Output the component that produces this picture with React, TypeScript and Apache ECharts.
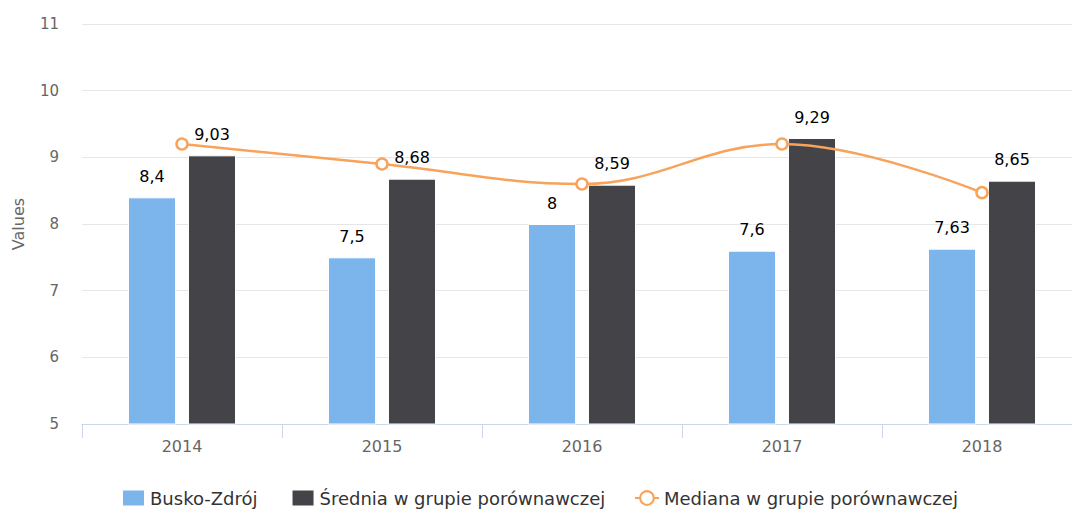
import React, { useEffect, useRef } from "react";
import * as echarts from "echarts";

const categories = ["2014", "2015", "2016", "2017", "2018"];
const buskoValues = [8.4, 7.5, 8, 7.6, 7.63];
const sredniaValues = [9.03, 8.68, 8.59, 9.29, 8.65];
const medianaValues = [9.2, 8.9, 8.6, 9.2, 8.47];
const seriesNames = ["Busko-Zdrój", "Średnia w grupie porównawczej", "Mediana w grupie porównawczej"];

const FONT = "'DejaVu Sans', Verdana, sans-serif";

export default function App() {
  const ref = useRef<HTMLDivElement>(null);
  useEffect(() => {
    if (!ref.current) return;
    const chart = echarts.init(ref.current, undefined, { renderer: "svg" });
    const fmt = (p: any) => String(p.value).replace(".", ",");
    const labelStyle = {
      show: true,
      position: "top" as const,
      distance: 13,
      fontSize: 16,
      color: "#000",
      fontFamily: FONT,
      formatter: fmt,
    };
    const legendText = { fontSize: 18, color: "#333", fontFamily: FONT, lineHeight: 20 };
    chart.setOption({
      animation: false,
      textStyle: { fontFamily: FONT },
      grid: { left: 82, width: 1000, top: 24, height: 400, outerBoundsMode: "none", containLabel: false },
      legend: [
        {
          data: [seriesNames[0], seriesNames[1]],
          left: 121,
          top: 488,
          padding: 0,
          itemWidth: 23,
          itemHeight: 17,
          itemGap: 33,
          icon: "rect",
          textStyle: legendText,
        },
        {
          data: [seriesNames[2]],
          left: 634,
          top: 488,
          padding: 0,
          itemWidth: 24,
          itemHeight: 17,
          textStyle: legendText,
        },
      ],
      xAxis: {
        type: "category",
        data: categories,
        axisLine: { lineStyle: { color: "#ccd6eb" } },
        axisTick: { show: true, length: 14, lineStyle: { color: "#ccd6eb" } },
        axisLabel: { fontSize: 16, color: "#666", margin: 14, fontFamily: FONT },
      },
      yAxis: {
        type: "value",
        min: 5,
        max: 11,
        interval: 1,
        name: "Values",
        nameLocation: "middle",
        nameGap: 56,
        nameTextStyle: { fontSize: 16, color: "#666", fontFamily: FONT },
        axisLine: { show: false },
        axisTick: { show: false },
        axisLabel: { fontSize: 15, color: "#666", margin: 23, fontFamily: FONT },
        splitLine: { lineStyle: { color: "#e6e6e6" } },
      },
      series: [
        {
          name: seriesNames[0],
          type: "bar",
          data: buskoValues,
          barWidth: 48,
          barGap: "25%",
          itemStyle: { color: "#7cb5ec", borderColor: "#fff", borderWidth: 1 },
          label: labelStyle,
        },
        {
          name: seriesNames[1],
          type: "bar",
          data: sredniaValues,
          barWidth: 48,
          itemStyle: { color: "#434348", borderColor: "#fff", borderWidth: 1 },
          label: labelStyle,
        },
        {
          name: seriesNames[2],
          type: "line",
          data: medianaValues,
          smooth: 0.4,
          symbol: "circle",
          symbolSize: 11,
          lineStyle: { color: "#f7a35c", width: 2.5 },
          itemStyle: { color: "#fff", borderColor: "#f7a35c", borderWidth: 2.5 },
          z: 5,
        },
      ],
    });
    return () => chart.dispose();
  }, []);
  return (
    <div
      ref={ref}
      style={{ position: "absolute", left: 0, top: 0, width: 1072, height: 510 }}
    />
  );
}
